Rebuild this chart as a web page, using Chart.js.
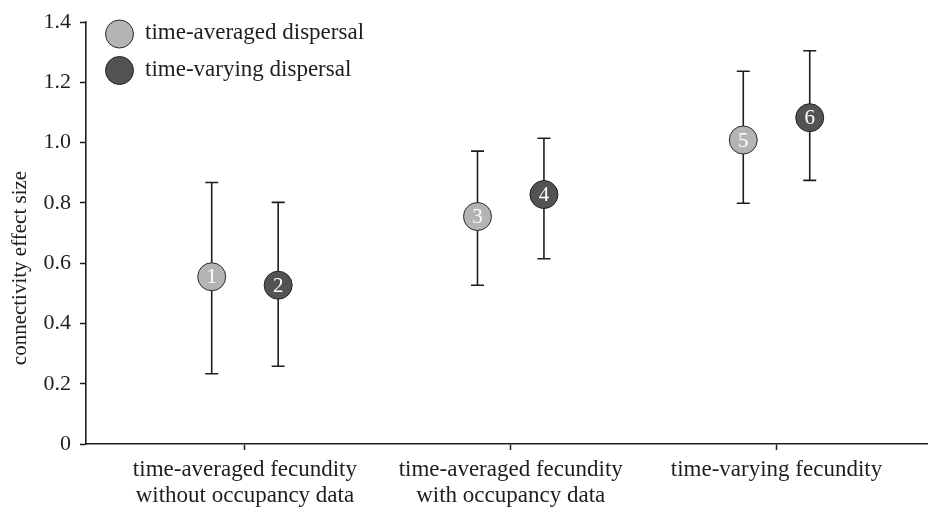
<!DOCTYPE html>
<html>
<head>
<meta charset="utf-8">
<script src="https://cdn.jsdelivr.net/npm/chart.js@4.4.1/dist/chart.umd.min.js"></script>
<style>
  html, body { margin: 0; padding: 0; background: #fff; overflow: hidden; }
  #wrap { width: 928px; height: 515px; }
  canvas { display: block; }
</style>
</head>
<body>
<div id="wrap"><canvas id="grafico"></canvas></div>
<script>
// categorias del eje x
var categorias = [
    ['time-averaged fecundity', 'without occupancy data'],
    ['time-averaged fecundity', 'with occupancy data'],
    ['time-varying fecundity']
];
var posiciones = [1, 2, 3];
var desplazamiento = 0.125;

// time-averaged dispersal
var promedioMedia = [0.555, 0.755, 1.009];
var promedioBajo = [0.233, 0.527, 0.799];
var promedioAlto = [0.868, 0.972, 1.237];
var promedioNumeros = ['1', '3', '5'];

// time-varying dispersal
var variableMedia = [0.527, 0.828, 1.083];
var variableBajo = [0.258, 0.615, 0.875];
var variableAlto = [0.802, 1.015, 1.305];
var variableNumeros = ['2', '4', '6'];

var yTicks = [0, 0.2, 0.4, 0.6, 0.8, 1.0, 1.2, 1.4];
var tituloY = 'connectivity effect size';

var fuente = '"Liberation Serif", "DejaVu Serif", serif';
var tinta = '#1e1e1e';

function puntos(medias, lado) {
    return medias.map(function(v, i) {
        return { x: posiciones[i] + lado * desplazamiento, y: v };
    });
}

var datos = {
    datasets: [
        {
            label: 'time-averaged dispersal',
            data: puntos(promedioMedia, -1),
            bajo: promedioBajo,
            alto: promedioAlto,
            numeros: promedioNumeros,
            backgroundColor: '#b4b4b4',
            borderColor: '#2a2a2a',
            borderWidth: 1,
            pointRadius: 14,
            pointHoverRadius: 14
        },
        {
            label: 'time-varying dispersal',
            data: puntos(variableMedia, 1),
            bajo: variableBajo,
            alto: variableAlto,
            numeros: variableNumeros,
            backgroundColor: '#535353',
            borderColor: '#222222',
            borderWidth: 1,
            pointRadius: 14,
            pointHoverRadius: 14
        }
    ]
};

// barras de error, numeros, titulo y leyenda
var extras = {
    id: 'extras',
    beforeDatasetsDraw: function(chart) {
        var ctx = chart.ctx, x = chart.scales.x, y = chart.scales.y;
        ctx.save();
        ctx.strokeStyle = tinta;
        ctx.lineWidth = 1.6;
        chart.data.datasets.forEach(function(ds) {
            ds.data.forEach(function(p, i) {
                var px = x.getPixelForValue(p.x);
                var top = y.getPixelForValue(ds.alto[i]);
                var bot = y.getPixelForValue(ds.bajo[i]);
                ctx.beginPath();
                ctx.moveTo(px, top); ctx.lineTo(px, bot);
                ctx.moveTo(px - 6.5, top); ctx.lineTo(px + 6.5, top);
                ctx.moveTo(px - 6.5, bot); ctx.lineTo(px + 6.5, bot);
                ctx.stroke();
            });
        });
        ctx.restore();
    },
    afterDatasetsDraw: function(chart) {
        var ctx = chart.ctx, x = chart.scales.x, y = chart.scales.y;
        ctx.save();
        ctx.fillStyle = '#ffffff';
        ctx.font = '21px ' + fuente;
        ctx.textAlign = 'center';
        ctx.textBaseline = 'middle';
        chart.data.datasets.forEach(function(ds) {
            ds.data.forEach(function(p, i) {
                ctx.fillText(ds.numeros[i], x.getPixelForValue(p.x), y.getPixelForValue(p.y) + 1);
            });
        });
        // titulo del eje y
        ctx.save();
        ctx.translate(20, 268);
        ctx.rotate(-Math.PI / 2);
        ctx.fillStyle = tinta;
        ctx.font = '21px ' + fuente;
        ctx.fillText(tituloY, 0, 0);
        ctx.restore();
        // leyenda
        ctx.textAlign = 'left';
        ctx.font = '23px ' + fuente;
        chart.data.datasets.forEach(function(ds, i) {
            var cy = 34 + i * 36.5;
            ctx.beginPath();
            ctx.arc(119.5, cy, 14, 0, Math.PI * 2);
            ctx.fillStyle = ds.backgroundColor;
            ctx.fill();
            ctx.lineWidth = 1;
            ctx.strokeStyle = ds.borderColor;
            ctx.stroke();
            ctx.fillStyle = tinta;
            ctx.fillText(ds.label, 145, cy - 1);
        });
        ctx.restore();
    }
};

var config = {
    type: 'scatter',
    data: datos,
    plugins: [extras],
    options: {
        responsive: true,
        maintainAspectRatio: false,
        animation: false,
        layout: { autoPadding: false, padding: { top: 20, right: 0, left: 0, bottom: 0 } },
        plugins: {
            legend: { display: false },
            tooltip: { enabled: false }
        },
        scales: {
            x: {
                type: 'linear',
                min: 0.402,
                max: 3.57,
                afterBuildTicks: function(scale) {
                    scale.ticks = posiciones.map(function(v) { return { value: v }; });
                },
                afterFit: function(scale) { scale.height = 71; },
                ticks: {
                    autoSkip: false,
                    maxRotation: 0,
                    padding: 6,
                    color: tinta,
                    font: { family: fuente, size: 23, lineHeight: 1.17 },
                    callback: function(v) { return categorias[posiciones.indexOf(v)]; }
                },
                grid: { drawOnChartArea: false, drawTicks: true, tickLength: 6, tickColor: tinta, tickWidth: 1.5 },
                border: { color: tinta, width: 1.6 }
            },
            y: {
                min: 0,
                max: 1.4,
                afterBuildTicks: function(scale) {
                    scale.ticks = yTicks.map(function(v) { return { value: v }; });
                },
                afterFit: function(scale) { scale.width = 86; },
                ticks: {
                    padding: 9,
                    color: tinta,
                    font: { family: fuente, size: 22 },
                    callback: function(v) { return v === 0 ? '0' : v.toFixed(1); }
                },
                grid: { drawOnChartArea: false, drawTicks: true, tickLength: 6, tickColor: tinta, tickWidth: 1.5 },
                border: { color: tinta, width: 1.6 }
            }
        }
    }
};

var grafico = new Chart(document.getElementById('grafico'), config);
</script>
</body>
</html>
